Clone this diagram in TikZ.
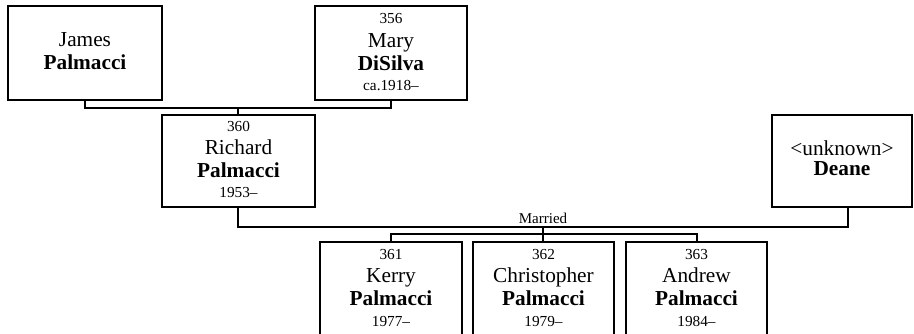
\documentclass[tikz,border=0pt]{standalone}
\usepackage{fontspec}
\setmainfont{Liberation Serif}
\begin{document}
\begin{tikzpicture}[x=1pt,y=-1pt,
  box/.style={draw,line width=2pt,inner sep=0pt,minimum width=#1},
  nm/.style={anchor=base,inner sep=0pt,font=\fontsize{21.3}{25}\selectfont},
  sn/.style={anchor=base,inner sep=0pt,font=\fontsize{21.3}{25}\selectfont\bfseries},
  sm/.style={anchor=base,inner sep=0pt,font=\fontsize{15.3}{18}\selectfont},
  lbl/.style={anchor=base,inner sep=0pt,font=\fontsize{15}{18}\selectfont},
  link/.style={line width=2pt}]
\useasboundingbox (0,0) rectangle (914,333);
\clip (0,0) rectangle (914,333);
% boxes
\node[box=154pt,minimum height=94pt] (james) at (85,53) {};
\node[box=152pt,minimum height=94pt] (mary) at (391,53) {};
\node[box=153pt,minimum height=92pt] (richard) at (238.5,161) {};
\node[box=140pt,minimum height=92pt] (deane) at (842,161) {};
\node[box=142pt,minimum height=93pt] (kerry) at (391,288.5) {};
\node[box=141pt,minimum height=93pt] (chris) at (543.5,288.5) {};
\node[box=141pt,minimum height=93pt] (andrew) at (696.5,288.5) {};
% texts
\node[nm] (t1) at (85,46) {James};
\node[sn] (t2) at (85,69) {Palmacci};
\node[sm] (t3) at (391,23) {356};
\node[nm] (t4) at (391,47) {Mary};
\node[sn] (t5) at (391,70) {DiSilva};
\node[sm] (t6) at (391,90) {ca.1918–};
\node[sm] (t7) at (238.5,131) {360};
\node[nm] (t8) at (238.5,154) {Richard};
\node[sn] (t9) at (238.5,177) {Palmacci};
\node[sm] (t10) at (238.5,197) {1953–};
\node[nm] (t11) at (842,155) {<unknown>};
\node[sn] (t12) at (842,175) {Deane};
\node[sm] (t13) at (391,259) {361};
\node[nm] (t14) at (391,282) {Kerry};
\node[sn] (t15) at (391,305) {Palmacci};
\node[sm] (t16) at (391,326) {1977–};
\node[sm] (t17) at (543.5,259) {362};
\node[nm] (t18) at (543.5,282) {Christopher};
\node[sn] (t19) at (543.5,305) {Palmacci};
\node[sm] (t20) at (543.5,326) {1979–};
\node[sm] (t21) at (696.5,259) {363};
\node[nm] (t22) at (696.5,282) {Andrew};
\node[sn] (t23) at (696.5,305) {Palmacci};
\node[sm] (t24) at (696.5,326) {1984–};
% connectors
\coordinate (pj) at (238,107);
\coordinate (mr) at (543,227);
\coordinate (ch) at (543,234);
\draw[link] (james.south) -- ++(0,7) -| (mary.south);
\draw[link] (pj) -- (richard.north -| pj);
\draw[link] (richard.south -| pj) -- (pj |- mr) -- (mr) -- (mr -| 848,0) -- (deane.south -| 848,0);
\node[lbl] (married) at (543,223) {Married};
\draw[link] (mr) -- (ch);
\draw[link] (kerry.north) -- (kerry.north |- ch) -- (andrew.north |- ch) -- (andrew.north);
\draw[link] (ch) -- (chris.north -| ch);
\end{tikzpicture}
\end{document}
